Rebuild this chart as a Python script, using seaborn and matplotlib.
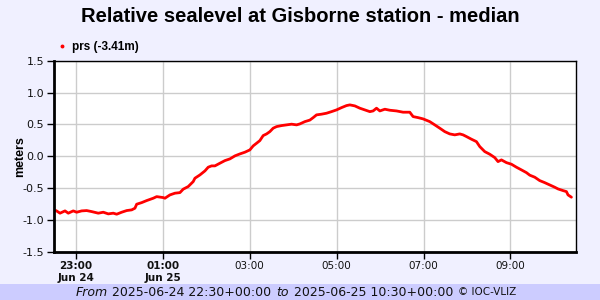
import numpy as np
import pandas as pd
import matplotlib
matplotlib.use("Agg")
import matplotlib.pyplot as plt
import seaborn as sns
from matplotlib.lines import Line2D

# ---------------- data ----------------
title = "Relative sealevel at Gisborne station - median"
series_name = "prs (-3.41m)"
start_time = "2025-06-24 22:30"
end_time = "2025-06-25 10:30"

# minutes after start_time
minutes = [2.8, 8.3, 15.2, 19.7, 26.6, 31.3, 38.2, 45.1, 52.0, 61.1, 68.0, 74.9,
           81.8, 86.5, 93.4, 100.3, 107.2, 111.7, 114.1, 121.0, 127.9, 137.0,
           141.7, 150.8, 153.1, 160.0, 166.9, 173.8, 178.3, 185.2, 192.1, 194.5,
           201.4, 208.3, 212.8, 217.5, 222.1, 229.0, 235.9, 242.8, 249.7, 256.6,
           263.5, 270.3, 274.9, 279.6, 284.1, 288.7, 293.4, 297.9, 302.5, 307.2,
           314.1, 321.0, 327.9, 334.8, 339.3, 346.2, 353.1, 357.7, 362.3, 369.2,
           376.1, 383.0, 389.9, 396.8, 403.7, 408.3, 415.2, 422.1, 429.0, 435.9,
           440.4, 445.1, 449.7, 456.6, 463.4, 472.7, 481.8, 491.0, 495.6, 502.5,
           509.4, 518.6, 525.5, 532.4, 539.3, 546.2, 553.1, 560.0, 564.6, 569.3,
           576.1, 583.0, 587.6, 594.5, 601.4, 608.3, 612.8, 617.5, 624.4, 631.3,
           638.2, 645.1, 652.0, 656.6, 663.5, 670.3, 677.2, 684.1, 691.0, 695.6,
           702.5, 707.2, 709.4, 714.1]
values = [-0.854, -0.895, -0.859, -0.895, -0.859, -0.880, -0.859, -0.854, -0.870,
          -0.895, -0.880, -0.906, -0.895, -0.911, -0.880, -0.854, -0.843, -0.817,
          -0.754, -0.729, -0.697, -0.660, -0.635, -0.650, -0.660, -0.608, -0.581,
          -0.572, -0.518, -0.477, -0.399, -0.346, -0.294, -0.231, -0.173, -0.152,
          -0.152, -0.110, -0.069, -0.042, 0.005, 0.036, 0.063, 0.099, 0.162,
          0.204, 0.245, 0.324, 0.350, 0.386, 0.440, 0.465, 0.481, 0.492, 0.503,
          0.492, 0.507, 0.543, 0.567, 0.606, 0.649, 0.660, 0.675, 0.700, 0.727,
          0.763, 0.795, 0.806, 0.790, 0.754, 0.727, 0.700, 0.711, 0.754, 0.711,
          0.738, 0.722, 0.711, 0.691, 0.691, 0.622, 0.606, 0.586, 0.543, 0.492,
          0.440, 0.386, 0.350, 0.335, 0.350, 0.335, 0.308, 0.267, 0.229, 0.151,
          0.072, 0.031, -0.022, -0.085, -0.058, -0.101, -0.126, -0.173, -0.215,
          -0.258, -0.298, -0.330, -0.383, -0.415, -0.451, -0.487, -0.514, -0.540,
          -0.556, -0.608, -0.644]

tick_times = ["2025-06-24 23:00", "2025-06-25 01:00", "2025-06-25 03:00",
              "2025-06-25 05:00", "2025-06-25 07:00", "2025-06-25 09:00"]
tick_labels = ["23:00\nJun 24", "01:00\nJun 25", "03:00", "05:00", "07:00", "09:00"]
bold_ticks = [0, 1]
y_ticks = [-1.5, -1.0, -0.5, 0.0, 0.5, 1.0, 1.5]
y_label = "meters"
footer_parts = [("From", "italic"), ("2025-06-24 22:30+00:00", "normal"),
                ("to", "italic"), ("2025-06-25 10:30+00:00", "normal"),
                ("\u00a9 IOC-VLIZ", "small")]

# ---------------- build ----------------
t0 = pd.Timestamp(start_time)
df = pd.DataFrame({"time": t0 + pd.to_timedelta(minutes, unit="m"),
                   "level": values})

sns.set_style("white")
plt.rcParams["font.family"] = ["DejaVu Sans"]
plt.rcParams["text.color"] = "black"
plt.rcParams["axes.labelcolor"] = "black"

BG = "#f0f0ff"
fig = plt.figure(figsize=(6, 3), dpi=100, facecolor=BG)
ax_w = 575.7 - 54
ax = fig.add_axes([54 / 600, 1 - 251.7 / 300, ax_w / 600, (251.7 - 60.7) / 300])
ax.set_facecolor("white")

ax.grid(True, color="#cccccc", linewidth=1)
ax.set_axisbelow(True)

sns.lineplot(data=df, x="time", y="level", ax=ax, color="#ff0000",
             linewidth=2.0, legend=False)

ax.set_xlim(pd.Timestamp(start_time), pd.Timestamp(end_time))
ax.set_ylim(y_ticks[0], y_ticks[-1])
ax.set_yticks(y_ticks)
ax.set_yticklabels([f"{v:.1f}" for v in y_ticks], fontsize=8, color="#111111")
ax.set_xticks(pd.to_datetime(tick_times))
ax.set_xticklabels(tick_labels, fontsize=7.5, color="#111111", linespacing=1.15)
for i in bold_ticks:
    ax.get_xticklabels()[i].set_fontweight("bold")

ax.set_xlabel("")
ax.set_ylabel(y_label, fontsize=9, fontweight="bold", color="black",
              family=["Liberation Sans", "DejaVu Sans"])
ax.yaxis.set_label_coords((26 - 54) / ax_w, 0.5)

for side in ["left", "bottom"]:
    ax.spines[side].set_linewidth(2)
    ax.spines[side].set_color("black")
for side in ["top", "right"]:
    ax.spines[side].set_linewidth(1)
    ax.spines[side].set_color("black")
ax.tick_params(axis="both", which="major", direction="out", length=5,
               width=1, color="black", pad=2, left=True, bottom=True)

# legend
handle = Line2D([], [], color="#ff0000", marker="o", markersize=1.8, linestyle="none")
fig.legend([handle], [series_name], loc="center left",
           bbox_to_anchor=(47 / 600, 1 - 47 / 300), frameon=False,
           handlelength=0.8, handletextpad=0.4, labelcolor="black",
           prop={"family": ["Liberation Sans", "DejaVu Sans"], "weight": "bold", "size": 8.5})

# title
fig.text(0.5, 1 - 16 / 300, title, ha="center", va="center", fontsize=14.5,
         fontweight="bold", color="black", family=["Liberation Sans", "DejaVu Sans"])

# footer band
fig.patches.append(plt.Rectangle((0, 0), 1, 16 / 300, transform=fig.transFigure,
                                 facecolor="#ccccff", edgecolor="none", zorder=0))
fig.canvas.draw()
renderer = fig.canvas.get_renderer()
texts = []
for s, style in footer_parts:
    if style == "italic":
        t = fig.text(0, 1 - 292 / 300, s, fontsize=9, style="italic", va="center", color="#111111")
    elif style == "small":
        t = fig.text(0, 1 - 292 / 300, s, fontsize=7.5, va="center", color="#111111")
    else:
        t = fig.text(0, 1 - 292 / 300, s, fontsize=9, va="center", color="#111111")
    texts.append(t)
gap = 5
widths = [t.get_window_extent(renderer).width for t in texts]
total = sum(widths) + gap * (len(texts) - 1)
x = 296 - total / 2
for t, w in zip(texts, widths):
    t.set_x(x / 600)
    x += w + gap

fig.savefig("out.png", dpi=100, facecolor=BG)
